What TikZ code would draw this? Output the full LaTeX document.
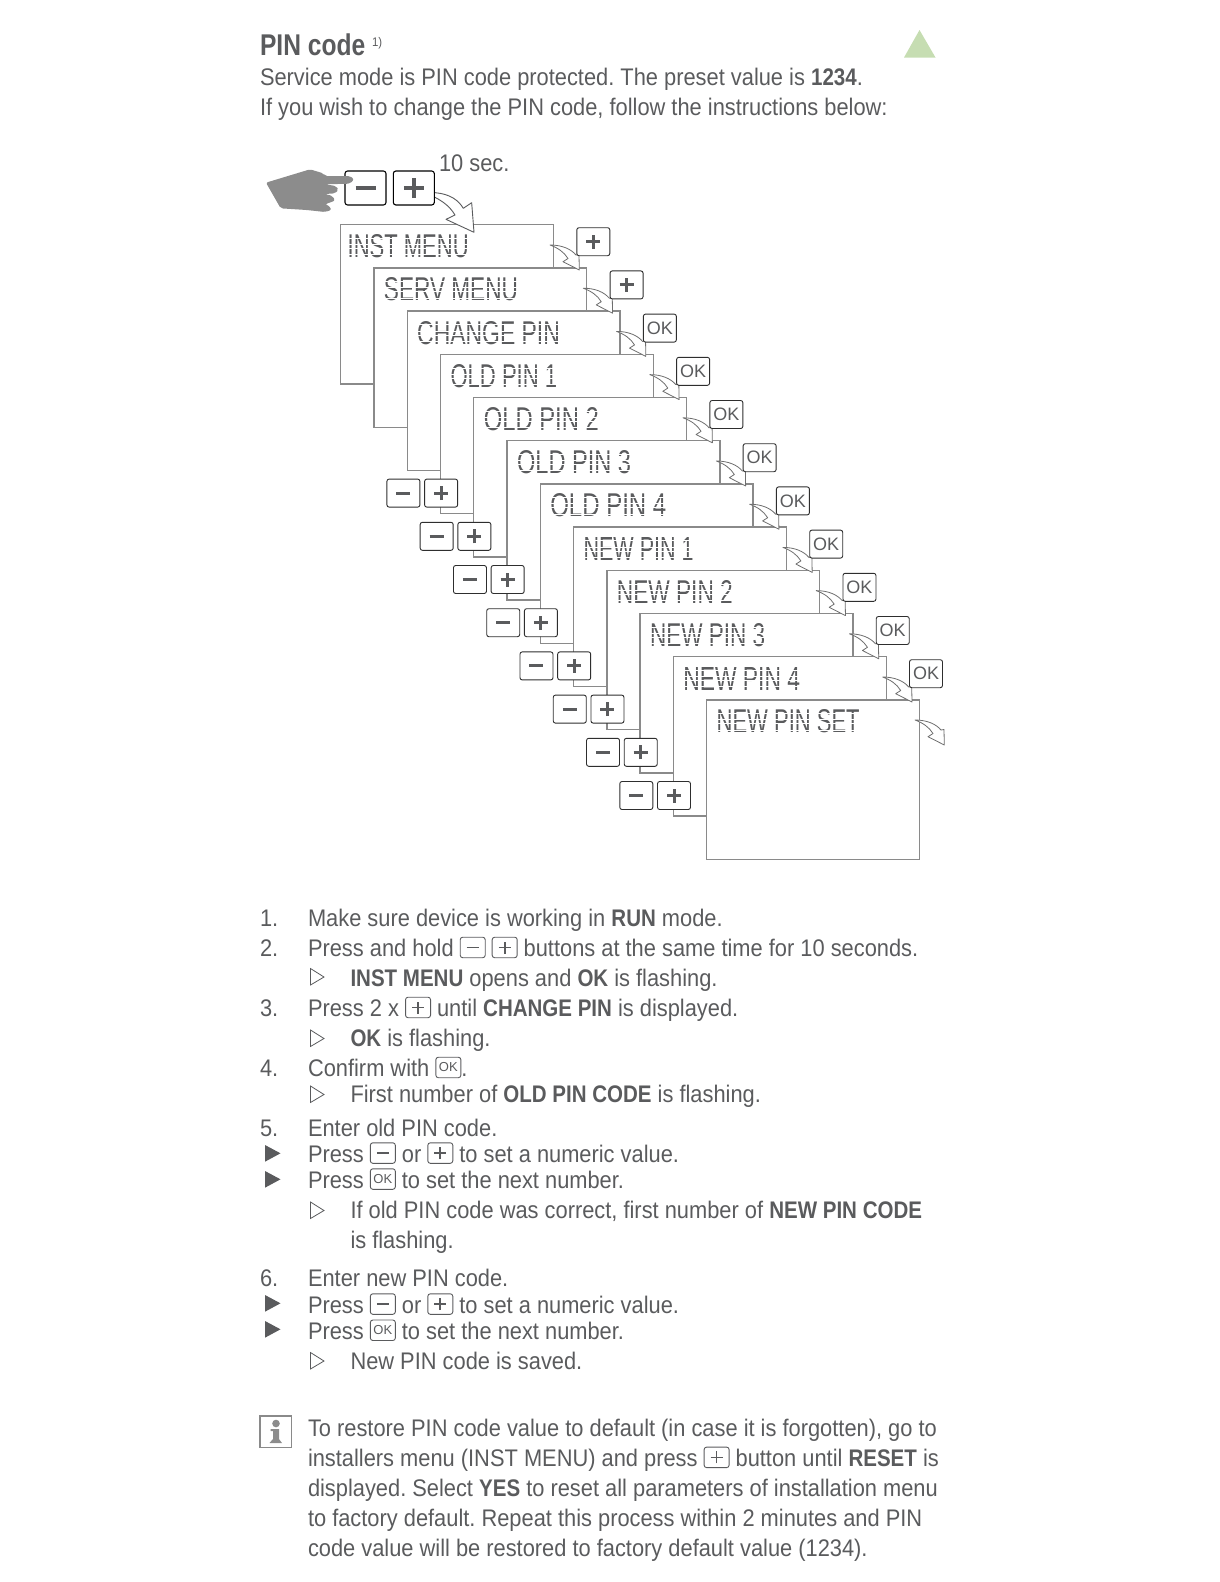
\documentclass[tikz,border=0pt]{standalone}
\usepackage{fontspec}
\setmainfont[FakeStretch=0.91,BoldFeatures={FakeStretch=0.855}]{Liberation Sans}
\newfontfamily\titlefont[FakeStretch=0.82]{Liberation Sans}
\newfontfamily\okfont{Liberation Sans}
\newfontfamily\lcdfont{Liberation Sans}
\definecolor{txtgray}{HTML}{5A5B5D}
\definecolor{linegray}{HTML}{8A8A8A}
\definecolor{btnline}{HTML}{2E2E2E}
\definecolor{trigreen}{HTML}{C6DDB2}
\definecolor{handgray}{HTML}{8C8C8C}
\frenchspacing
\tikzset{
  txt/.style={anchor=base west,inner sep=0pt,outer sep=0pt,text=txtgray,font=\fontsize{24}{24}\selectfont},
  scrn/.style={draw=linegray,line width=1.4pt,fill=white},
  lcd/.style={anchor=south west,inner sep=0pt,outer sep=0pt,text=txtgray},
  lcdgap/.style={draw=white,line width=0.7pt},
  btnbox/.style={draw=btnline,line width=0.9pt,rounded corners=2.2pt,fill=white,inner sep=0pt,minimum width=33pt,minimum height=28pt},
  bigbtn/.style={draw=black,line width=1.1pt,rounded corners=2.6pt,fill=white,inner sep=0pt,minimum width=41pt,minimum height=34pt},
  symb/.style={draw=txtgray,line width=3pt},
  bigsymb/.style={draw=txtgray,line width=4pt},
  hollow/.style={draw=txtgray,line width=0.8pt,fill=white},
  solidtri/.style={fill=txtgray,draw=none},
  arrowline/.style={draw=linegray!80!black,line width=0.8pt,fill=white,line join=round},
  okbtn/.style={btnbox,text=txtgray,font=\okfont\fontsize{18}{18}\selectfont},
  minipfeil/.pic={\draw[arrowline] (0,0) .. controls (12,0) and (21,4) .. (26,10) -- (29,9.5) -- (29.3,25) -- (13,16.7) -- (18,13.5) .. controls (14,7) and (8,3) .. (0,0) -- cycle;}
}
\newcommand{\inlbtn}[1]{\tikz[baseline=0pt,x=1pt,y=1pt]{\draw[txtgray,line width=0.9pt,rounded corners=2.5pt] (0,-1) rectangle (25,19.5); #1}}
\newcommand{\im}{\inlbtn{\draw[txtgray,line width=1.7pt] (6.5,9.2) -- (18.5,9.2);}}
\newcommand{\ip}{\inlbtn{\draw[txtgray,line width=1.7pt] (6.5,9.2) -- (18.5,9.2) (12.5,3.2) -- (12.5,15.2);}}
\newcommand{\iok}{\inlbtn{\node[anchor=center,inner sep=0pt,text=txtgray,font=\okfont\fontsize{13}{13}\selectfont] at (12.5,9.2) {OK};}}
\begin{document}
\begin{tikzpicture}[x=1pt,y=-1pt]
\useasboundingbox (0,0) rectangle (1219,1582);
% header
\node[txt,font=\titlefont\fontsize{30}{30}\selectfont\bfseries] (title) at (260,55.5) {PIN code};
\node[txt,font=\fontsize{12.5}{12.5}\selectfont] (titlenote) at (372,46.5) {1)};
\fill[trigreen] (904,57.5) -- (935.5,57.5) -- (919.5,30) -- cycle;
\node[txt] (h1) at (260,85) {Service mode is PIN code protected. The preset value is \textbf{1234}.};
\node[txt] (h2) at (260,115.5) {If you wish to change the PIN code, follow the instructions below:};
\node[txt] (tensec) at (439,171) {10 sec.};
% screens
\foreach \i/\lab/\w in {0/INST MENU/121,1/SERV MENU/134,2/CHANGE PIN/142.6,3/OLD PIN 1/106.7,4/OLD PIN 2/115,5/OLD PIN 3/114,6/OLD PIN 4/116,7/NEW PIN 1/110,8/NEW PIN 2/116,9/NEW PIN 3/115,10/NEW PIN 4/116.7,11/NEW PIN SET/143}{
  \pgfmathsetmacro{\sx}{340.7+33.27*\i}
  \pgfmathsetmacro{\sy}{224.7+43.2*\i}
  \pgfmathsetmacro{\lx}{\sx+(\i==0?7:10)}
  \pgfmathsetmacro{\ly}{\sy+33.4}
  \draw[scrn] (\sx,\sy) rectangle ++(212.8,159.3);
  \node[lcd] (lcd\i) at (\lx,\ly) {\resizebox{\w pt}{23pt}{\lcdfont \lab}};
  \foreach \g in {3.4,9.6,13.6,19.7}{
    \draw[lcdgap] (\lx-1,\ly-\g) -- (\lx+\w+1,\ly-\g);
  }
}
% left button pairs
\foreach \i in {3,...,10}{
  \pgfmathsetmacro{\bx}{636.3-33.27*(10-\i)}
  \pgfmathsetmacro{\bxb}{674-33.27*(10-\i)}
  \pgfmathsetmacro{\by}{795.5-43.2*(10-\i)}
  \node[btnbox] (lm\i) at (\bx,\by) {};
  \node[btnbox] (lp\i) at (\bxb,\by) {};
  \draw[symb] ([xshift=-7pt]lm\i.center) -- ([xshift=7pt]lm\i.center);
  \draw[symb] ([xshift=-7pt]lp\i.center) -- ([xshift=7pt]lp\i.center) ([yshift=-7pt]lp\i.center) -- ([yshift=7pt]lp\i.center);
}
% right arrows and buttons
\foreach \i in {0,...,10}{
  \pgfmathsetmacro{\ax}{550+33.27*\i}
  \pgfmathsetmacro{\ay}{245+43.2*\i}
  \pic at (\ax,\ay) {minipfeil};
}
\pic at (915,720) {minipfeil};
\foreach \i in {0,1}{
  \pgfmathsetmacro{\bx}{593.3+33.27*\i}
  \pgfmathsetmacro{\by}{241.7+43.2*\i}
  \node[btnbox] (rb\i) at (\bx,\by) {};
  \draw[symb] ([xshift=-7pt]rb\i.center) -- ([xshift=7pt]rb\i.center) ([yshift=-7pt]rb\i.center) -- ([yshift=7pt]rb\i.center);
}
\foreach \i in {2,...,10}{
  \pgfmathsetmacro{\bx}{593.3+33.27*\i}
  \pgfmathsetmacro{\by}{241.7+43.2*\i}
  \node[okbtn] (rb\i) at (\bx,\by) {OK};
}
% big arrow, buttons, hand
\begin{scope}[shift={(250,140)},scale=0.33333]
\draw[draw=txtgray,line width=0.9pt,fill=white,line join=round] (555,158) .. controls (600,162) and (625,180) .. (640,205) -- (665,188) -- (672,277) -- (588,238) -- (615,225) .. controls (600,200) and (580,185) .. (555,172);
\end{scope}
\node[bigbtn] (bigm) at (365.5,188) {};
\node[bigbtn] (bigp) at (413.8,188) {};
\draw[bigsymb] ([xshift=-10pt]bigm.center) -- ([xshift=10pt]bigm.center);
\draw[bigsymb] ([xshift=-10pt]bigp.center) -- ([xshift=10pt]bigp.center) ([yshift=-10pt]bigp.center) -- ([yshift=10pt]bigp.center);
\begin{scope}[shift={(250,140)},scale=0.33333]
\fill[handgray,rounded corners=2pt] (48,128) -- (180,88) -- (220,100) -- (225,108) -- (300,108) -- (312,118) -- (300,131) -- (225,133) -- (258,138) -- (266,150) -- (255,160) -- (225,162) -- (248,168) -- (255,182) -- (225,193) -- (240,199) -- (244,210) -- (225,216) -- (170,210) -- (92,205) -- cycle;
\end{scope}
% steps
\node[txt] (n1) at (260,926.7) {1.};
\node[txt] (s1) at (308,926.7) {Make sure device is working in \textbf{RUN} mode.};
\node[txt] (n2) at (260,956.7) {2.};
\node[txt] (s2) at (308,956.7) {Press and hold \im\ \ip\ buttons at the same time for 10 seconds.};
\draw[hollow] (310.5,968.5) -- (324,977) -- (310.5,985) -- cycle;
\node[txt] (r2) at (350.5,986.7) {\textbf{INST MENU} opens and \textbf{OK} is flashing.};
\node[txt] (n3) at (260,1016.7) {3.};
\node[txt] (s3) at (308,1016.7) {Press 2 x \ip\ until \textbf{CHANGE PIN} is displayed.};
\draw[hollow] (310.5,1030) -- (324,1038.5) -- (310.5,1046.5) -- cycle;
\node[txt] (r3) at (350.5,1046.7) {\textbf{OK} is flashing.};
\node[txt] (n4) at (260,1076.7) {4.};
\node[txt] (s4) at (308,1076.7) {Confirm with \iok.};
\draw[hollow] (310.5,1086) -- (324,1094.5) -- (310.5,1102.5) -- cycle;
\node[txt] (r4) at (350.5,1102.3) {First number of \textbf{OLD PIN CODE} is flashing.};
\node[txt] (n5) at (260,1136.7) {5.};
\node[txt] (s5) at (308,1136.7) {Enter old PIN code.};
\fill[solidtri] (265,1145) -- (280.5,1153.3) -- (265,1161.7) -- cycle;
\node[txt] (s5a) at (308,1162.3) {Press \im\ or \ip\ to set a numeric value.};
\fill[solidtri] (265,1171) -- (280.5,1179.3) -- (265,1187.7) -- cycle;
\node[txt] (s5b) at (308,1188.3) {Press \iok\ to set the next number.};
\draw[hollow] (310.5,1202) -- (324,1210.5) -- (310.5,1218.5) -- cycle;
\node[txt] (r5a) at (350.5,1218.6) {If old PIN code was correct, first number of \textbf{NEW PIN CODE}};
\node[txt] (r5b) at (350.5,1248.6) {is flashing.};
\node[txt] (n6) at (260,1286) {6.};
\node[txt] (s6) at (308,1286) {Enter new PIN code.};
\fill[solidtri] (265,1295) -- (280.5,1303.3) -- (265,1311.7) -- cycle;
\node[txt] (s6a) at (308,1313.3) {Press \im\ or \ip\ to set a numeric value.};
\fill[solidtri] (265,1321) -- (280.5,1329.3) -- (265,1337.7) -- cycle;
\node[txt] (s6b) at (308,1339.5) {Press \iok\ to set the next number.};
\draw[hollow] (310.5,1352.5) -- (324,1361) -- (310.5,1369) -- cycle;
\node[txt] (r6) at (350.5,1369) {New PIN code is saved.};
% info
\draw[draw=linegray,line width=1.1pt] (260,1416) rectangle (291.7,1447.3);
\fill[handgray] (276,1423.5) circle (3.8);
\fill[handgray] (270.5,1429) -- (279,1429) -- (279,1439) -- (282,1443) -- (269.5,1443) -- (273,1439) -- (273,1431) -- (270.5,1431) -- cycle;
\node[txt] (i1) at (308,1436.6) {To restore PIN code value to default (in case it is forgotten), go to};
\node[txt] (i2) at (308,1466.6) {installers menu (INST MENU) and press \ip\ button until \textbf{RESET} is};
\node[txt] (i3) at (308,1496.6) {displayed. Select \textbf{YES} to reset all parameters of installation menu};
\node[txt] (i4) at (308,1526.6) {to factory default. Repeat this process within 2 minutes and PIN};
\node[txt] (i5) at (308,1556.6) {code value will be restored to factory default value (1234).};
\end{tikzpicture}
\end{document}
